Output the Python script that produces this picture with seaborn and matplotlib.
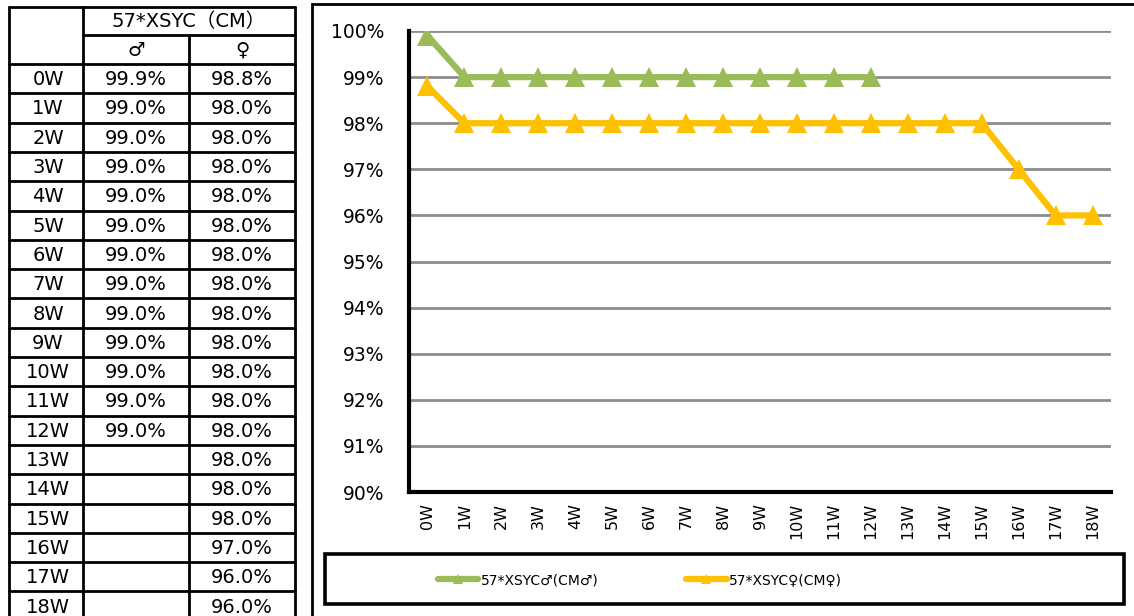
import numpy as np
import pandas as pd
import matplotlib
matplotlib.use('Agg')
import matplotlib.pyplot as plt
from matplotlib.lines import Line2D
from matplotlib.patches import Rectangle
from matplotlib.ticker import PercentFormatter, FixedLocator
import seaborn as sns

# ---- data ---------------------------------------------------------
weeks = [f"{i}W" for i in range(19)]
male = [99.9, 99.0, 99.0, 99.0, 99.0, 99.0, 99.0, 99.0, 99.0, 99.0,
        99.0, 99.0, 99.0, None, None, None, None, None, None]
female = [98.8, 98.0, 98.0, 98.0, 98.0, 98.0, 98.0, 98.0, 98.0, 98.0,
          98.0, 98.0, 98.0, 98.0, 98.0, 98.0, 97.0, 96.0, 96.0]
table_title = "57*XSYC（CM）"
col_heads = ["♂", "♀"]
series_names = ["57*XSYC♂(CM♂)", "57*XSYC♀(CM♀)"]
colors = ["#9BBB59", "#FFC000"]

sns.set_style('white')
plt.rcParams['font.family'] = ['DejaVu Sans', 'Noto Sans CJK JP']
plt.rcParams['text.color'] = 'black'
plt.rcParams['xtick.color'] = 'black'
plt.rcParams['ytick.color'] = 'black'
plt.rcParams['xtick.labelcolor'] = 'black'
plt.rcParams['ytick.labelcolor'] = 'black'

W, H = 1134, 616
fig = plt.figure(figsize=(W / 100, H / 100), dpi=100)

# ---- table (pixel coordinates) ------------------------------------
tab = fig.add_axes([0, 0, 1, 1])
tab.set_xlim(0, W)
tab.set_ylim(H, 0)
tab.axis('off')

x0, x1, x2, x3 = 9, 83, 189, 295
y_top, y_h1, y_h2 = 7, 35, 64
row_h = 29.3
n = len(weeks)
y_end = y_h2 + n * row_h
lw = 2.0

# horizontal lines
tab.plot([x0, x3], [y_top, y_top], color='black', lw=lw)
tab.plot([x1, x3], [y_h1, y_h1], color='black', lw=lw)
for i in range(n):
    y = y_h2 + i * row_h
    tab.plot([x0, x3], [y, y], color='black', lw=lw)
# vertical lines
tab.plot([x0, x0], [y_top, y_end], color='black', lw=lw)
tab.plot([x1, x1], [y_top, y_end], color='black', lw=lw)
tab.plot([x2, x2], [y_h1, y_end], color='black', lw=lw)
tab.plot([x3, x3], [y_top, y_end], color='black', lw=lw)

fs = 14
tab.text((x1 + x3) / 2, (y_top + y_h1) / 2 + 1, table_title, ha='center', va='center', fontsize=fs)
tab.text((x1 + x2) / 2, (y_h1 + y_h2) / 2 + 1, col_heads[0], ha='center', va='center', fontsize=fs)
tab.text((x2 + x3) / 2, (y_h1 + y_h2) / 2 + 1, col_heads[1], ha='center', va='center', fontsize=fs)
for i, wk in enumerate(weeks):
    yc = y_h2 + (i + 0.5) * row_h + 1
    tab.text((x0 + x1) / 2 + 2, yc, wk, ha='center', va='center', fontsize=fs)
    if male[i] is not None:
        tab.text((x1 + x2) / 2, yc, f"{male[i]:.1f}%", ha='center', va='center', fontsize=fs)
    if female[i] is not None:
        tab.text((x2 + x3) / 2, yc, f"{female[i]:.1f}%", ha='center', va='center', fontsize=fs)

# ---- chart frame + legend box -------------------------------------
fig.patches.append(Rectangle((312 / W, -0.1), 1.0, 1 - 4 / H + 0.1, transform=fig.transFigure,
                             fill=False, edgecolor='black', lw=2))
fig.patches.append(Rectangle((325 / W, 1 - 604 / H), (1124 - 325) / W, 50 / H,
                             transform=fig.transFigure, fill=False, edgecolor='black', lw=2.6))

# ---- line chart ---------------------------------------------------
ax = fig.add_axes([409 / W, 1 - 492 / H, (1111 - 409) / W, (492 - 31) / H])

df = pd.DataFrame({
    'pos': list(range(n)) * 2,
    'value': [v / 100 if v is not None else np.nan for v in male + female],
    'series': [series_names[0]] * n + [series_names[1]] * n,
}).dropna()

sns.lineplot(data=df, x='pos', y='value', hue='series', hue_order=series_names[::-1],
             palette=dict(zip(series_names, colors)), marker='^', markersize=14,
             markeredgewidth=0, linewidth=4.5, legend=False, ax=ax, zorder=3)

ax.set_xlim(-0.5, n - 0.5)
ax.set_ylim(0.90, 1.00)
ax.yaxis.set_major_locator(FixedLocator(np.arange(0.90, 1.0001, 0.01)))
ax.yaxis.set_major_formatter(PercentFormatter(1.0, decimals=0))
ax.set_xticks(range(n))
ax.set_xticklabels(weeks, rotation=90)
ax.set_xticks(np.arange(-0.5, n, 1), minor=True)
ax.tick_params(axis='x', which='major', length=0, pad=8, labelsize=11.5)
ax.tick_params(axis='x', which='minor', length=6, width=2, direction='out', color='black')
ax.tick_params(axis='y', length=8, width=2, direction='out', color='black', pad=10, labelsize=13.5)
ax.set_xlabel('')
ax.set_ylabel('')
ax.yaxis.grid(True, color='#8c8c8c', lw=2)
ax.xaxis.grid(False)
ax.set_axisbelow(True)
for side in ['top', 'right']:
    ax.spines[side].set_visible(False)
for side in ['left', 'bottom']:
    ax.spines[side].set_color('black')
    ax.spines[side].set_linewidth(3)
    ax.spines[side].set_zorder(4)

handles = [Line2D([], [], color=c, lw=4.5, marker='^', markersize=7, markeredgewidth=0)
           for c in colors]
fig.legend(handles, series_names, loc='center left', bbox_to_anchor=(438 / W, 1 - 580 / H),
           ncol=2, frameon=False, fontsize=10, handlelength=2.9, handletextpad=0.2,
           columnspacing=6.3, borderpad=0, borderaxespad=0)

fig.savefig('out.png', dpi=100)
